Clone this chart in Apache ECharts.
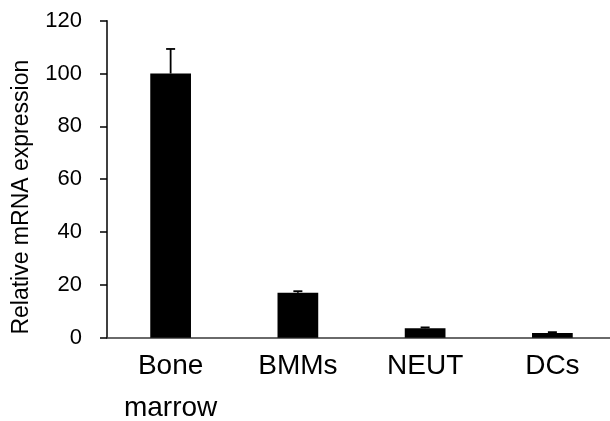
<!DOCTYPE html>
<html>
<head>
<meta charset="utf-8">
<script src="https://cdn.jsdelivr.net/npm/echarts@6/dist/echarts.min.js"></script>
<style>
  html, body { margin: 0; padding: 0; background: #fff; }
  #chart { width: 610px; height: 421px; }
</style>
</head>
<body>
<div id="chart"></div>
<script>
const categories = ['Bone\nmarrow', 'BMMs', 'NEUT', 'DCs'];
const expression = [100, 17, 3.6, 1.8];
const errorTop = [109.3, 17.6, 3.9, 2.1];
const yTicks = { min: 0, max: 120, interval: 20 };

const font = 'Liberation Sans, Arial, sans-serif';

const chart = echarts.init(document.getElementById('chart'));

const option = {
  backgroundColor: '#fff',
  animation: false,
  grid: { left: 107, top: 20.7, width: 509, height: 317, outerBoundsMode: 'none', containLabel: false },
  xAxis: {
    type: 'category',
    data: categories,
    axisLine: { lineStyle: { color: '#3a3a3a', width: 1.5 } },
    axisTick: { show: false },
    axisLabel: {
      color: '#000',
      fontFamily: font,
      fontSize: 28,
      lineHeight: 42,
      margin: 8,
      interval: 0
    }
  },
  yAxis: {
    type: 'value',
    min: yTicks.min,
    max: yTicks.max,
    interval: yTicks.interval,
    name: 'Relative mRNA expression',
    nameLocation: 'middle',
    nameGap: 74,
    nameTextStyle: { color: '#000', fontFamily: font, fontSize: 23, padding: [0, 36, 0, 0] },
    splitLine: { show: false },
    axisLine: { show: true, lineStyle: { color: '#000', width: 1.5 } },
    axisTick: { show: true, length: 7, lineStyle: { color: '#000', width: 1.5 } },
    axisLabel: { color: '#000', fontFamily: font, fontSize: 22, margin: 25 }
  },
  series: [
    {
      type: 'bar',
      data: expression,
      barWidth: '32%',
      itemStyle: { color: '#000' }
    },
    {
      type: 'custom',
      data: categories.map((c, i) => [i, expression[i], errorTop[i]]),
      renderItem: function (params, api) {
        const base = api.coord([api.value(0), api.value(1)]);
        const top = api.coord([api.value(0), api.value(2)]);
        const half = 4.5;
        const style = { stroke: '#000', lineWidth: 1.8 };
        return {
          type: 'group',
          children: [
            { type: 'line', shape: { x1: base[0], y1: base[1], x2: top[0], y2: top[1] }, style: style },
            { type: 'line', shape: { x1: top[0] - half, y1: top[1], x2: top[0] + half, y2: top[1] }, style: style }
          ]
        };
      },
      z: 3
    }
  ]
};

chart.setOption(option);
</script>
</body>
</html>
